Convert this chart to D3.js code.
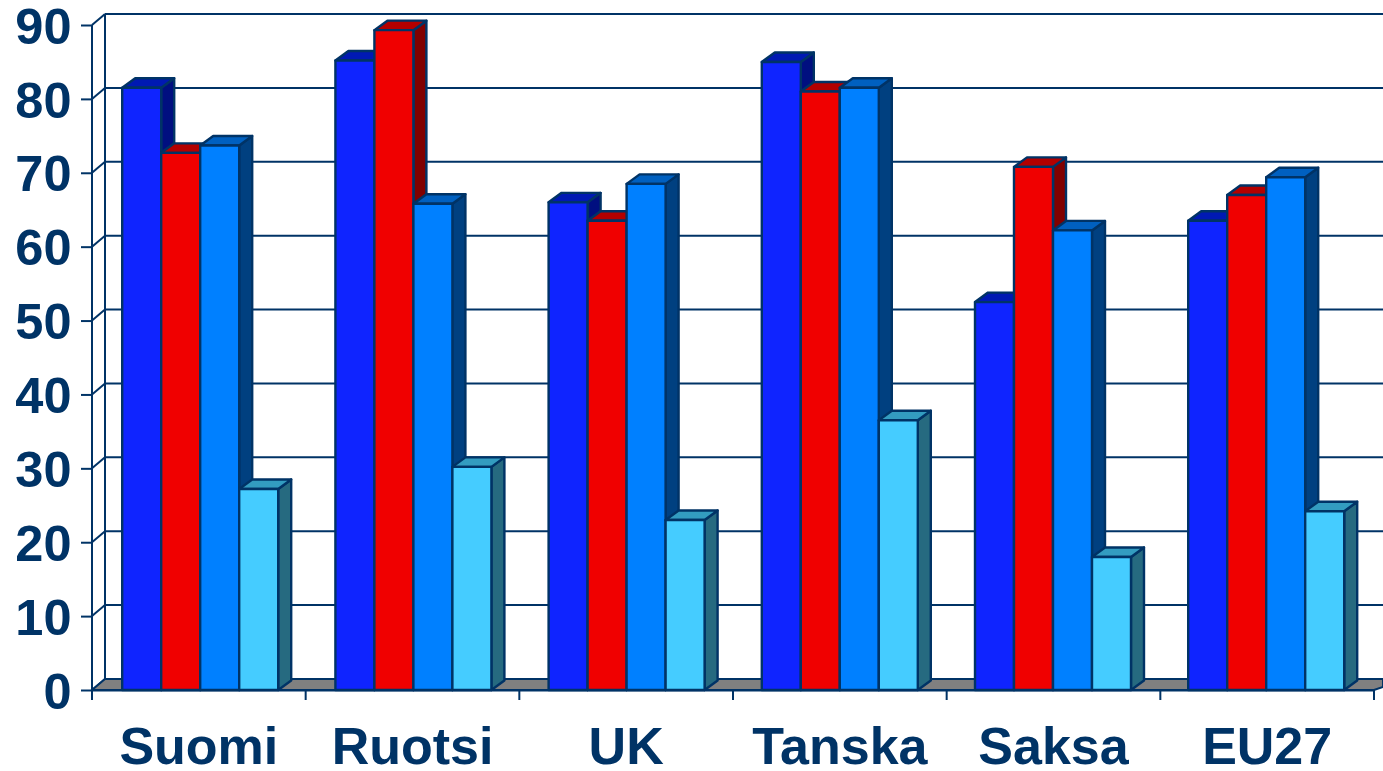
<!DOCTYPE html>
<html><head><meta charset="utf-8">
<script src="https://cdn.jsdelivr.net/npm/d3@7"></script>
<style>html,body{margin:0;padding:0;background:#fff;overflow:hidden}svg{display:block}
text{font-family:"Liberation Sans",Arial,sans-serif;font-weight:bold;fill:#003366}</style></head>
<body><svg id="c" width="1383" height="771"></svg>
<script>
const categories = ["Suomi","Ruotsi","UK","Tanska","Saksa","EU27"];
const seriesA = [81.5,85.2,66.0,85.0,52.5,63.5];
const seriesB = [72.7,89.3,63.5,81.0,70.8,67.0];
const seriesC = [73.7,65.8,68.5,81.5,62.2,69.4];
const seriesD = [27.2,30.2,23.0,36.5,18.0,24.2];
const yTicks = [0,10,20,30,40,50,60,70,80,90];
const fronts = ["#0f24ff","#f00000","#0080ff","#45ccff"];
const tops   = ["#0019b3","#b30000","#0060c0","#339cc0"];
const sides  = ["#000f80","#800000","#004080","#266a80"];

const navy="#003366", DX=13, DY=11, BDY=9.5;
const svg=d3.select("#c");
const x=d3.scaleBand().domain(categories).range([92,1374]);
const barX=d3.scaleBand().domain(categories).range([92.2,1371.4]);
const y=d3.scaleLinear().domain([0,90]).range([690,25]);
const inner=d3.scaleBand().domain([0,1,2,3]).range([30,186]);
const series=[seriesA,seriesB,seriesC,seriesD];

const wall=svg.append("g").attr("fill","none").attr("stroke",navy).attr("stroke-width",2);
yTicks.forEach(t=>{
  if(t>0) wall.append("line").attr("x1",92+DX).attr("x2",1383).attr("y1",y(t)-DY).attr("y2",y(t)-DY);
  wall.append("line").attr("x1",92).attr("x2",92+DX).attr("y1",y(t)).attr("y2",y(t)-DY);
});
wall.append("line").attr("x1",92+DX).attr("x2",92+DX).attr("y1",y(0)-DY).attr("y2",y(90)-DY);
wall.append("line").attr("x1",92).attr("x2",92).attr("y1",y(0)+8).attr("y2",y(90));

svg.append("path")
  .attr("d",d3.line()([[92,y(0)],[92+DX,y(0)-DY],[1383,y(0)-DY],[1383,y(0)-3],[1374,y(0)]])+"Z")
  .attr("fill","#808080").attr("stroke",navy).attr("stroke-width",2);

const yAxis=svg.append("g").attr("transform","translate(92,0)")
  .call(d3.axisLeft(y).tickValues(yTicks).tickSize(11).tickPadding(9.5));
yAxis.select(".domain").remove();
yAxis.selectAll("line").attr("stroke",navy).attr("stroke-width",2);
yAxis.selectAll("text").attr("font-size",50.5).attr("fill",navy)
  .attr("font-family","Liberation Sans").attr("font-weight","bold").attr("dy","0.36em");

const xAxis=svg.append("g").attr("transform",`translate(0,${y(0)})`)
  .call(d3.axisBottom(x).tickSize(0).tickPadding(37));
xAxis.select(".domain").attr("stroke",navy).attr("stroke-width",2);
xAxis.selectAll("text").attr("font-size",52).attr("fill",navy)
  .attr("font-family","Liberation Sans").attr("font-weight","bold").attr("dy","0.71em");
const edges=categories.map(c=>x(c)).concat([x.range()[1]]);
svg.append("g").selectAll("line").data(edges).join("line")
  .attr("x1",d=>d).attr("x2",d=>d).attr("y1",y(0)).attr("y2",y(0)+10)
  .attr("stroke",navy).attr("stroke-width",2);

const bars=svg.append("g").attr("stroke",navy).attr("stroke-width",2.4).attr("stroke-linejoin","round");
categories.forEach((c,i)=>{
  series.forEach((s,k)=>{
    const x0=barX(c)+inner(k), x1=x0+inner.bandwidth(), yt=y(s[i]), yb=y(0);
    bars.append("path").attr("fill",sides[k])
      .attr("d",d3.line()([[x1,yb],[x1+DX,yb-BDY],[x1+DX,yt-BDY],[x1,yt]])+"Z");
    bars.append("path").attr("fill",tops[k])
      .attr("d",d3.line()([[x0,yt],[x0+DX,yt-BDY],[x1+DX,yt-BDY],[x1,yt]])+"Z");
    bars.append("rect").attr("fill",fronts[k])
      .attr("x",x0).attr("y",yt).attr("width",x1-x0).attr("height",yb-yt);
  });
});
</script></body></html>
